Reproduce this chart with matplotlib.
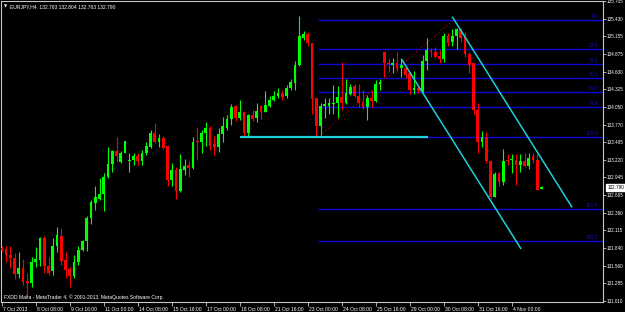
import matplotlib
matplotlib.use("Agg")
import matplotlib.pyplot as plt
import matplotlib.transforms as mtransforms
import numpy as np

plt.rcParams['font.family'] = ['Liberation Sans', 'DejaVu Sans']

# EURJPY H4 candles, bar 0 = 7 Oct 2013 00:00
opens = [131.84, 131.82, 131.73, 131.68, 131.43, 131.52, 131.32, 131.29, 131.62, 131.65,
         132.00, 131.56, 131.48, 131.86, 132.03, 131.65, 131.50, 131.39, 131.61, 131.80,
         131.95, 132.30, 132.54, 132.61, 132.68, 132.95, 133.15, 133.35, 133.18, 133.33,
         133.20, 133.21, 133.28, 133.20, 133.32, 133.42, 133.63, 133.50, 133.56, 133.44,
         132.90, 133.06, 132.73, 133.06, 133.13, 133.09, 133.51, 133.49, 133.63, 133.71,
         133.46, 133.42, 133.62, 133.72, 133.86, 134.06, 133.87, 133.97, 133.63, 133.92,
         133.88, 134.06, 133.97, 134.06, 134.15, 134.21, 134.27, 134.21, 134.34, 134.42,
         134.70, 135.12, 135.19, 135.05, 134.19, 133.75, 134.06, 134.06, 134.09, 134.10,
         134.20, 134.10, 134.25, 134.37, 134.22, 134.13, 134.05, 134.19, 134.14, 134.41,
         134.90, 134.74, 134.71, 134.74, 134.66, 134.66, 134.57, 134.31, 134.35, 134.29,
         134.76, 134.92, 134.91, 134.85, 134.80, 135.16, 135.06, 135.15, 135.27, 135.16,
         134.88, 134.73, 133.99, 133.50, 133.58, 133.20, 132.64, 133.01, 132.87, 133.22,
         133.21, 133.22, 133.14, 133.20, 133.12, 133.27, 133.22, 132.763]
highs = [131.86, 131.86, 131.86, 131.75, 131.77, 131.66, 131.44, 131.70, 131.85, 132.01,
         132.03, 131.70, 131.99, 132.17, 132.15, 131.78, 131.54, 131.73, 131.87, 131.96,
         132.33, 132.59, 132.80, 132.94, 133.01, 133.42, 133.37, 133.58, 133.35, 133.51,
         133.32, 133.32, 133.32, 133.37, 133.49, 133.69, 133.80, 133.62, 133.59, 133.44,
         133.17, 133.11, 133.31, 133.23, 133.20, 133.57, 133.73, 133.69, 133.81, 133.74,
         133.59, 133.71, 133.89, 133.92, 134.09, 134.08, 134.15, 133.98, 133.94, 134.00,
         134.11, 134.08, 134.30, 134.21, 134.30, 134.35, 134.31, 134.39, 134.49, 134.77,
         135.47, 135.23, 135.22, 135.05, 134.19, 134.10, 134.18, 134.18, 134.39, 134.38,
         134.75, 134.49, 134.40, 134.40, 134.40, 134.31, 134.23, 134.31, 134.47, 134.48,
         134.91, 134.81, 134.81, 134.90, 134.79, 134.69, 134.60, 134.61, 134.39, 134.86,
         135.13, 134.97, 134.99, 134.94, 135.20, 135.20, 135.26, 135.28, 135.28, 135.22,
         134.91, 134.73, 134.11, 133.67, 133.66, 133.21, 133.03, 133.02, 133.39, 133.31,
         133.31, 133.31, 133.31, 133.32, 133.32, 133.32, 133.31, 132.804]
lows = [131.79, 131.61, 131.52, 131.35, 131.36, 131.26, 131.10, 131.22, 131.54, 131.56,
        131.45, 131.41, 131.41, 131.78, 131.57, 131.36, 131.23, 131.37, 131.57, 131.79,
        131.79, 132.21, 132.43, 132.59, 132.42, 132.94, 133.02, 133.19, 133.16, 133.32,
        133.03, 133.14, 133.14, 133.14, 133.29, 133.41, 133.48, 133.42, 133.38, 132.80,
        132.81, 132.60, 132.72, 132.98, 132.95, 133.08, 133.21, 133.33, 133.44, 133.37,
        133.30, 133.34, 133.50, 133.69, 133.77, 133.83, 133.84, 133.58, 133.58, 133.83,
        133.81, 133.85, 133.96, 134.04, 134.14, 134.19, 134.16, 134.18, 134.31, 134.31,
        134.69, 135.10, 135.00, 133.93, 133.57, 133.61, 133.87, 133.94, 133.94, 133.87,
        134.00, 134.09, 134.23, 134.20, 134.04, 134.02, 133.84, 134.05, 134.12, 134.31,
        134.52, 134.60, 134.57, 134.61, 134.52, 134.50, 134.25, 134.25, 134.26, 134.28,
        134.62, 134.82, 134.82, 134.74, 134.75, 135.00, 135.00, 134.96, 135.07, 134.82,
        134.57, 133.94, 133.32, 133.42, 133.16, 132.60, 132.63, 132.80, 132.83, 133.14,
        133.01, 132.82, 133.03, 133.11, 133.08, 133.16, 132.74, 132.763]
closes = [131.81, 131.72, 131.68, 131.43, 131.53, 131.31, 131.29, 131.62, 131.66, 132.00,
          131.56, 131.45, 131.86, 132.04, 131.63, 131.49, 131.39, 131.62, 131.80, 131.95,
          132.31, 132.55, 132.64, 132.68, 132.95, 133.15, 133.35, 133.27, 133.33, 133.51,
          133.22, 133.28, 133.20, 133.33, 133.44, 133.63, 133.50, 133.56, 133.41, 132.90,
          133.06, 132.73, 133.07, 133.12, 133.09, 133.50, 133.49, 133.64, 133.71, 133.44,
          133.42, 133.62, 133.74, 133.86, 134.05, 133.87, 133.97, 133.63, 133.92, 133.86,
          133.98, 133.96, 134.08, 134.15, 134.22, 134.26, 134.20, 134.35, 134.44, 134.70,
          135.15, 135.19, 135.04, 134.17, 133.75, 134.06, 134.09, 134.11, 134.10, 134.20,
          134.10, 134.26, 134.36, 134.21, 134.11, 134.04, 134.19, 134.14, 134.41, 134.44,
          134.73, 134.72, 134.74, 134.66, 134.70, 134.55, 134.31, 134.35, 134.29, 134.76,
          134.93, 134.90, 134.83, 134.80, 135.16, 135.04, 135.16, 135.27, 135.13, 134.87,
          134.71, 133.99, 133.50, 133.58, 133.20, 132.64, 132.99, 132.87, 133.20, 133.20,
          133.22, 133.14, 133.20, 133.12, 133.25, 133.21, 132.74, 132.790]

# axis labels
price_ticks = [135.705, 135.430, 135.155, 134.875, 134.600, 134.325, 134.050, 133.770, 133.495,
               133.220, 132.945, 132.665, 132.390, 132.115, 131.840, 131.560, 131.285, 131.010]
time_labels = ['7 Oct 2013', '8 Oct 08:00', '9 Oct 16:00', '11 Oct 00:00', '14 Oct 08:00',
               '15 Oct 16:00', '17 Oct 00:00', '18 Oct 08:00', '21 Oct 16:00', '23 Oct 00:00',
               '24 Oct 08:00', '25 Oct 16:00', '29 Oct 00:00', '30 Oct 08:00', '31 Oct 16:00',
               '4 Nov 00:00']
time_label_bars = [0, 8, 16, 24, 32, 40, 48, 56, 64, 72, 80, 88, 96, 104, 112, 120]

# fibonacci retracement drawn on the chart
fib_labels = ['0.0', '23.6', '38.2', '50.0', '61.8', '76.4', '100.0', '161.8', '188.2']
fib_prices = [135.410, 134.947, 134.717, 134.493, 134.274, 134.039, 133.569, 132.441, 131.945]
fib_start = 74.4
fib_anchor_x = [74.4, 106.3]
fib_anchor_y = [133.569, 135.410]

# cyan objects
support_x = [56.1, 100.2]
support_y = [133.569, 133.569]
chan1_x = [106.1, 134.1]
chan1_y = [135.448, 132.482]
chan2_x = [94.1, 122.1]
chan2_y = [134.790, 131.831]

last_price = 132.790

W, H = 625, 312
fig = plt.figure(figsize=(W / 100, H / 100), dpi=100, facecolor='black')
ax = fig.add_axes([1.5 / W, 10 / H, 601.5 / W, 301 / H], facecolor='black')

bull = '#00ff00'
bear = '#ff0000'
cyan = '#1fd0d8'
fibc = '#0a0ad2'
grey = '#c8c8c8'
fs = 3.6
fs_y = 3.35

o = np.array(opens)
h = np.array(highs)
l = np.array(lows)
c = np.array(closes)
x = np.arange(len(o))
up = c >= o
cols = np.where(up, bull, bear)

ax_y = mtransforms.blended_transform_factory(ax.transAxes, ax.transData)

# fib levels
for lab, p in zip(fib_labels, fib_prices):
    ax.hlines(p, fib_start, 200, color=fibc, lw=1.0, zorder=1)
    ax.text(0.9925, p + 0.02, lab, color=fibc, fontsize=fs, ha='right', va='bottom',
            transform=ax_y)
ax.plot(fib_anchor_x, fib_anchor_y, color='#b00000', lw=0.8, ls=(0, (1, 2)), zorder=1)

# candles
ax.vlines(x, l, h, colors=cols, lw=0.8, zorder=3)
body_lo = np.minimum(o, c)
body_h = np.maximum(np.abs(c - o), 0.018)
ax.bar(x, body_h, bottom=body_lo, width=0.68, color=cols, lw=0, zorder=4)

# cyan lines
ax.plot(support_x, support_y, color=cyan, lw=1.6, zorder=5, solid_capstyle='butt')
ax.plot(chan1_x, chan1_y, color=cyan, lw=1.1, zorder=5)
ax.plot(chan2_x, chan2_y, color=cyan, lw=1.1, zorder=5)

ax.set_xlim(-0.06, 141.47)
ax.set_ylim(130.990, 135.703)

for s in ax.spines.values():
    s.set_color(grey)
    s.set_linewidth(0.8)

ax.yaxis.tick_right()
ax.set_yticks(price_ticks)
ax.set_yticklabels(['%.3f' % p for p in price_ticks])
ax.set_xticks(time_label_bars)
ax.set_xticklabels(time_labels, ha='left')
ax.tick_params(axis='y', colors=grey, labelcolor='white', length=2, width=0.6,
               labelsize=fs_y, pad=0.8, direction='out')
ax.tick_params(axis='x', colors=grey, labelcolor='white', length=3, width=0.6,
               labelsize=fs, pad=0.5, direction='out')
off = mtransforms.ScaledTranslation(1.5 / 100, 0, fig.dpi_scale_trans)
for lbl in ax.get_xticklabels():
    lbl.set_transform(lbl.get_transform() + off)

# current price marker
ax.text(1.007, last_price, '%.3f' % last_price, color='black', fontsize=fs_y, ha='left',
        va='center', transform=ax_y,
        bbox=dict(boxstyle='square,pad=0.2', fc='white', ec='white'), zorder=10, clip_on=False)

# header and footer texts
fig.text(4 / W, 1 - 6 / H, '\u25bc', color='white', fontsize=3, va='center',
         family='DejaVu Sans')
fig.text(10 / W, 1 - 6.5 / H, 'EURJPY,H4  132.763 132.804 132.763 132.790', color='white',
         fontsize=fs, va='center')
fig.text(4 / W, 1 - 297 / H, 'FXDD Malta - MetaTrader 4, \u00a9 2001-2013, MetaQuotes Software Corp.',
         color='white', fontsize=fs, va='center')

fig.savefig('out.png', dpi=100, facecolor='black')
